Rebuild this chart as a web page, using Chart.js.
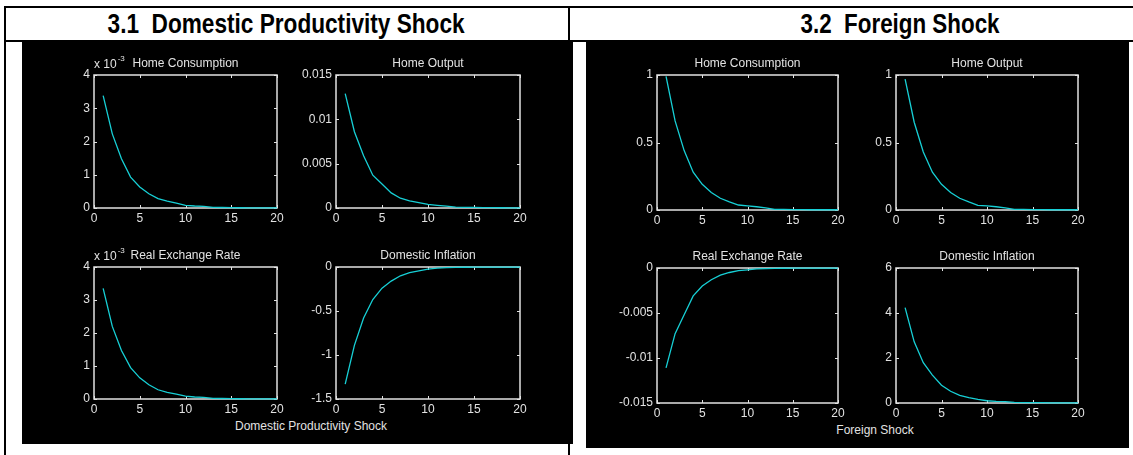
<!DOCTYPE html>
<html>
<head>
<meta charset="utf-8">
<script src="https://cdn.jsdelivr.net/npm/chart.js@4"></script>
<style>
  html, body { margin: 0; padding: 0; background: #fff; }
  #page { position: relative; width: 1133px; height: 455px; overflow: hidden; background: #fff; }
  .rule { position: absolute; background: #000; }
  .panel { position: absolute; background: #000; }
  .head {
    position: absolute; top: 7px; height: 34px; line-height: 34px;
    font-family: "Liberation Sans Narrow", "Liberation Sans", Arial, sans-serif;
    font-weight: bold; font-size: 27px; color: #000; white-space: pre;
    transform-origin: center center;
  }
  .xlab {
    position: absolute; font-family: "Liberation Sans", Arial, sans-serif;
    font-size: 12px; color: #e2e2e2; white-space: nowrap;
    transform: translate(-50%, -50%);
  }
  canvas { position: absolute; }
</style>
</head>
<body>
<div id="page">
  <!-- table rules -->
  <div class="rule" style="left:4px;top:6px;width:1129px;height:2px"></div>
  <div class="rule" style="left:4px;top:40px;width:1129px;height:2px"></div>
  <div class="rule" style="left:4px;top:6px;width:2px;height:449px"></div>
  <div class="rule" style="left:568px;top:6px;width:2px;height:449px"></div>

  <div class="head" id="head1">3.1  Domestic Productivity Shock</div>
  <div class="head" id="head2">3.2  Foreign Shock</div>

  <div class="panel" style="left:22px;top:42px;width:551px;height:402px"></div>
  <div class="panel" style="left:586px;top:42px;width:543px;height:406px"></div>

  <div class="xlab" style="left:311px;top:426px">Domestic Productivity Shock</div>
  <div class="xlab" style="left:875px;top:430px">Foreign Shock</div>
</div>

<script>
// periods after the shock
const periods = [1, 2, 3, 4, 5, 6, 7, 8, 9, 10, 11, 12, 13, 14, 15, 16, 17, 18, 19, 20];
const xTicks = [0, 5, 10, 15, 20];

// 3.1 domestic productivity shock
const dpsConsumption = [3.38, 2.23, 1.48, 0.93, 0.63, 0.43, 0.28, 0.21, 0.15, 0.08, 0.06, 0.05, 0.02, 0.015, 0.01, 0.008, 0.006, 0.005, 0.004, 0.003]; // x 10^-3
const dpsOutput = [0.0129, 0.0086, 0.0059, 0.0037, 0.0027, 0.0017, 0.0011, 0.0008, 0.0006, 0.0004, 0.0003, 0.0002, 0.0001, 0.00008, 0.00006, 0.00005, 0.00004, 0.00003, 0.00002, 0.00002];
const dpsExchange = [3.35, 2.2, 1.47, 0.95, 0.64, 0.43, 0.28, 0.2, 0.15, 0.09, 0.06, 0.05, 0.02, 0.015, 0.01, 0.008, 0.006, 0.005, 0.004, 0.003]; // x 10^-3
const dpsInflation = [-1.33, -0.89, -0.58, -0.37, -0.24, -0.16, -0.1, -0.065, -0.045, -0.025, -0.012, -0.007, -0.004, -0.003, -0.002, -0.0015, -0.001, -0.001, -0.0005, -0.0005];

// 3.2 foreign shock
const fsConsumption = [0.99, 0.66, 0.44, 0.28, 0.19, 0.13, 0.087, 0.06, 0.037, 0.03, 0.024, 0.015, 0.005, 0.004, 0.003, 0.003, 0.002, 0.002, 0.002, 0.002];
const fsOutput = [0.97, 0.65, 0.43, 0.28, 0.19, 0.13, 0.087, 0.06, 0.035, 0.03, 0.024, 0.015, 0.005, 0.004, 0.003, 0.003, 0.002, 0.002, 0.002, 0.002];
const fsExchange = [-0.0111, -0.0073, -0.0052, -0.0031, -0.002, -0.0013, -0.0008, -0.0005, -0.0003, -0.0002, -0.0001, -0.00006, -0.00004, -0.00003, -0.00002, -0.00002, -0.00001, -0.00001, -0.00001, -0.00001];
const fsInflation = [4.24, 2.72, 1.79, 1.24, 0.79, 0.52, 0.34, 0.24, 0.16, 0.1, 0.07, 0.06, 0.03, 0.02, 0.02, 0.015, 0.01, 0.01, 0.01, 0.01];

// y tick labels per subplot
const ticksConsumption31 = [0, 1, 2, 3, 4];
const ticksOutput31 = [0, 0.005, 0.01, 0.015];
const ticksExchange31 = [0, 1, 2, 3, 4];
const ticksInflation31 = [-1.5, -1, -0.5, 0];
const ticksConsumption32 = [0, 0.5, 1];
const ticksOutput32 = [0, 0.5, 1];
const ticksExchange32 = [-0.015, -0.01, -0.005, 0];
const ticksInflation32 = [0, 2, 4, 6];

const FONT = '"Liberation Sans", Arial, sans-serif';
const INK = "#e2e2e2";
const CYAN = "#17d0d6";
const YW = 48, PT = 26, PR = 14, XH = 24;

Chart.defaults.font.family = FONT;

// matlab style box, inward ticks, title and exponent label
const matlabAxes = {
  id: "matlabAxes",
  beforeDatasetsDraw(chart, args, opts) {
    const { ctx, chartArea: a, scales: { x, y } } = chart;
    ctx.save();
    ctx.strokeStyle = INK;
    ctx.lineWidth = 1.5;
    ctx.strokeRect(a.left, a.top, a.right - a.left, a.bottom - a.top);
    ctx.lineWidth = 1;
    x.ticks.forEach(t => {
      const px = Math.round(x.getPixelForValue(t.value)) + 0.5;
      ctx.beginPath();
      ctx.moveTo(px, a.bottom); ctx.lineTo(px, a.bottom - 3);
      ctx.moveTo(px, a.top); ctx.lineTo(px, a.top + 3);
      ctx.stroke();
    });
    y.ticks.forEach(t => {
      const py = Math.round(y.getPixelForValue(t.value)) + 0.5;
      ctx.beginPath();
      ctx.moveTo(a.left, py); ctx.lineTo(a.left + 3, py);
      ctx.moveTo(a.right, py); ctx.lineTo(a.right - 3, py);
      ctx.stroke();
    });
    ctx.restore();
  },
  afterDraw(chart, args, opts) {
    const { ctx, chartArea: a } = chart;
    ctx.save();
    ctx.fillStyle = INK;
    ctx.textBaseline = "middle";
    ctx.font = "12px " + FONT;
    ctx.textAlign = "center";
    ctx.fillText(opts.title, (a.left + a.right) / 2, a.top - 11);
    if (opts.exponent) {
      ctx.textAlign = "left";
      const base = "x 10";
      ctx.fillText(base, a.left, a.top - 10);
      const w = ctx.measureText(base).width;
      ctx.font = "8px " + FONT;
      ctx.fillText(opts.exponent, a.left + w + 1, a.top - 16);
    }
    ctx.restore();
  }
};

function subplot(rect, title, values, yTicks, exponent) {
  const canvas = document.createElement("canvas");
  const w = YW + rect.w + PR, h = PT + rect.h + XH;
  canvas.width = w; canvas.height = h;
  canvas.style.width = w + "px"; canvas.style.height = h + "px";
  canvas.style.left = (rect.left - YW) + "px";
  canvas.style.top = (rect.top - PT) + "px";
  document.getElementById("page").appendChild(canvas);

  const tickFont = { size: 12, family: FONT };
  return new Chart(canvas, {
    type: "line",
    data: {
      datasets: [{
        data: periods.map((p, i) => ({ x: p, y: values[i] })),
        borderColor: CYAN,
        borderWidth: 1.3,
        pointRadius: 0,
        tension: 0,
        clip: false
      }]
    },
    options: {
      responsive: false,
      animation: false,
      devicePixelRatio: 1,
      layout: { padding: { top: PT, right: PR, left: 0, bottom: 0 }, autoPadding: false },
      plugins: {
        legend: { display: false },
        tooltip: { enabled: false },
        matlabAxes: { title: title, exponent: exponent }
      },
      scales: {
        x: {
          type: "linear", min: 0, max: 20,
          afterBuildTicks: s => { s.ticks = xTicks.map(v => ({ value: v })); },
          afterFit: s => { s.height = XH; },
          grid: { display: false, drawTicks: false },
          border: { display: false },
          ticks: { color: INK, font: tickFont, padding: 3, maxRotation: 0, autoSkip: false, callback: v => String(v) }
        },
        y: {
          type: "linear", min: yTicks[0], max: yTicks[yTicks.length - 1],
          afterBuildTicks: s => { s.ticks = yTicks.map(v => ({ value: v })); },
          afterFit: s => { s.width = YW; },
          grid: { display: false, drawTicks: false },
          border: { display: false },
          ticks: { color: INK, font: tickFont, padding: 4, autoSkip: false, callback: v => String(v) }
        }
      }
    },
    plugins: [matlabAxes]
  });
}

// 3.1 panel
subplot({ left: 94, top: 75, w: 183, h: 133 }, "Home Consumption", dpsConsumption, ticksConsumption31, "-3");
subplot({ left: 336, top: 75, w: 184, h: 133 }, "Home Output", dpsOutput, ticksOutput31);
subplot({ left: 94, top: 267, w: 183, h: 132 }, "Real Exchange Rate", dpsExchange, ticksExchange31, "-3");
subplot({ left: 336, top: 267, w: 184, h: 132 }, "Domestic Inflation", dpsInflation, ticksInflation31);

// 3.2 panel
subplot({ left: 657, top: 75, w: 181, h: 135 }, "Home Consumption", fsConsumption, ticksConsumption32);
subplot({ left: 896, top: 75, w: 182, h: 135 }, "Home Output", fsOutput, ticksOutput32);
subplot({ left: 657, top: 268, w: 181, h: 135 }, "Real Exchange Rate", fsExchange, ticksExchange32);
subplot({ left: 896, top: 268, w: 182, h: 135 }, "Domestic Inflation", fsInflation, ticksInflation32);

// headers: centre and squeeze to the measured width
function placeHead(id, centerX, targetW) {
  const el = document.getElementById(id);
  const w = el.getBoundingClientRect().width;
  el.style.left = (centerX - w / 2) + "px";
  el.style.transform = "scaleX(" + (targetW / w) + ")";
}
placeHead("head1", 286.5, 357);
placeHead("head2", 900, 199);
</script>
</body>
</html>
